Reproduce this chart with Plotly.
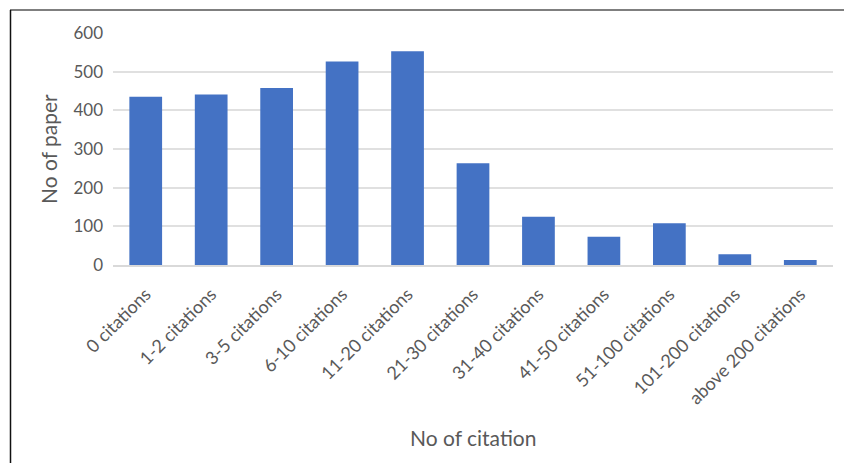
import plotly.graph_objects as go

# Number of papers per citation bucket
categories = [
    "0 citations", "1-2 citations", "3-5 citations", "6-10 citations",
    "11-20 citations", "21-30 citations", "31-40 citations", "41-50 citations",
    "51-100 citations", "101-200 citations", "above 200 citations",
]
papers = [435, 441, 458, 526, 553, 263, 125, 73, 108, 28, 13]
y_ticks = [0, 100, 200, 300, 400, 500, 600]

FONT = "Lato, 'Open Sans', sans-serif"
GREY = "#595959"

fig = go.Figure(
    go.Bar(x=categories, y=papers, marker=dict(color="#4472C4", line=dict(width=0)))
)

W, H = 844, 463
L, R, T, B = 113, 11, 33, 198
pw, ph = W - L - R, H - T - B


def px_x(x):
    return (x - L) / pw


def px_y(y):
    return (H - B - y) / ph


fig.update_layout(
    width=W, height=H,
    margin=dict(l=L, r=R, t=T, b=B, autoexpand=False),
    paper_bgcolor="white", plot_bgcolor="white",
    bargap=0.5,
    showlegend=False,
    font=dict(family=FONT, color=GREY),
    xaxis=dict(
        tickangle=-45, tickfont=dict(size=18, color=GREY),
        showgrid=False, showline=True, linecolor="#d9d9d9", linewidth=1.5,
        ticks="", ticklabelstandoff=10, automargin=False,
    ),
    yaxis=dict(
        range=[0, 600], tickvals=y_ticks, tickfont=dict(size=17, color=GREY),
        showgrid=True, gridcolor="#e0e0e0", gridwidth=1.5,
        zeroline=False, showline=False, ticks="", ticklabelstandoff=9,
        automargin=False,
    ),
    annotations=[
        dict(text="No of citation", xref="paper", yref="paper",
             x=0.5, y=px_y(437), showarrow=False,
             font=dict(size=21, color=GREY, family=FONT),
             xanchor="center", yanchor="middle"),
        dict(text="No of paper", xref="paper", yref="paper",
             x=px_x(48), y=0.5, textangle=-90, showarrow=False,
             font=dict(size=21, color=GREY, family=FONT),
             xanchor="center", yanchor="middle"),
    ],
    shapes=[
        dict(type="line", xref="paper", yref="paper",
             x0=px_x(10), x1=px_x(W), y0=px_y(10), y1=px_y(10),
             line=dict(color="#7f7f7f", width=2)),
        dict(type="line", xref="paper", yref="paper",
             x0=px_x(10.5), x1=px_x(10.5), y0=px_y(10), y1=px_y(H),
             line=dict(color="#111111", width=1.5)),
    ],
)

fig.write_html("out.html")
